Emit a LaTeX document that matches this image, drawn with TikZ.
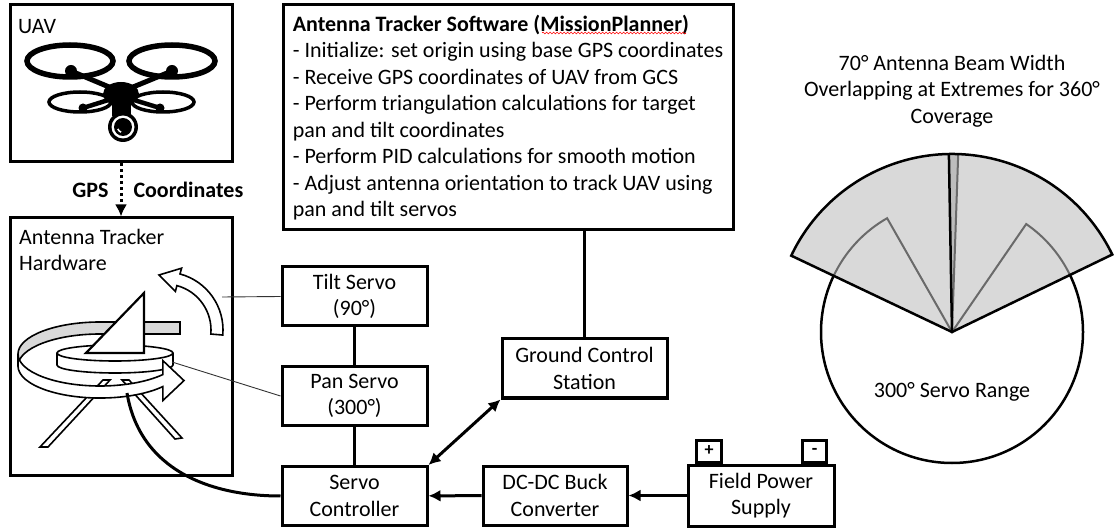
\documentclass[tikz,border=0pt]{standalone}
\usepackage{fontspec}
\setmainfont{Carlito}
\usetikzlibrary{arrows,arrows.meta,positioning,decorations.pathmorphing}

\definecolor{beam}{HTML}{D9D9D9}
\definecolor{beamdark}{HTML}{BDBDBD}
\definecolor{edgegray}{HTML}{6A6A6A}

\tikzset{
  blk/.style={draw, line width=3pt, minimum width=145pt, minimum height=59pt, align=center, inner sep=1pt},
  frame/.style={draw, line width=3pt, inner sep=0pt},
  link/.style={line width=3pt},
  thinlink/.style={line width=0.9pt, black!80},
  lbl/.style={inner sep=0pt},
  part/.style={line width=1.6pt, fill=white},
  edge/.style={line width=2pt, edgegray},
}

\begin{document}
\begin{tikzpicture}[x=1pt, y=-1pt, >={Latex[length=12pt,width=12pt]}, font=\fontsize{22}{26.5}\selectfont]
\useasboundingbox (0,0) rectangle (1117,529);

% --- UAV and tracker frames
\node[frame, minimum width=222pt, minimum height=157pt] (uav) at (121,83.5) {};
\node[frame, minimum width=222pt, minimum height=257pt] (hw) at (121,346.5) {};
\node[lbl, anchor=west] (uavlbl) at (18,27) {UAV};
\node[lbl, anchor=north west, align=left] (hwlbl) at (19,229) {Antenna Tracker\\Hardware};

\draw[link, dash pattern=on 3pt off 3pt, ->] (uav.south) -- (hw.north)
  node[lbl, midway, left=11pt, font=\fontsize{22}{26.5}\selectfont\bfseries] (gps) {GPS}
  node[lbl, midway, right=11pt, font=\fontsize{22}{26.5}\selectfont\bfseries] (coord) {Coordinates};

% drone icon
\draw[line width=5.5pt] (70,61) ellipse [x radius=43, y radius=16];
\draw[line width=5.5pt] (172,61) ellipse [x radius=43, y radius=16];
\draw[line width=3.5pt] (80,102) ellipse [x radius=31, y radius=10];
\draw[line width=3.5pt] (163,102) ellipse [x radius=31, y radius=10];
\draw[line width=5pt, line cap=round] (71,71) -- (121,92) -- (172,71);
\draw[line width=4.5pt, line cap=round] (83,108) -- (121,96) -- (160,108);
\fill (121,94) ellipse [x radius=18, y radius=12];
\fill (112,98) rectangle (131,116);
\foreach \p in {(71,71),(172,71)} \fill \p circle (6);
\foreach \p in {(83,108),(160,108)} \fill \p circle (4.5);
\fill (123,127) circle (15);
\fill[white] (123,127) circle (11.5);
\fill (123,127) circle (9);
\draw[white, line width=1.5pt] (123,127) ++(-200:5.5) arc[start angle=-200, end angle=-250, radius=5.5];

% pan ring, back half
\draw[part, fill=beam] (18,354) arc[start angle=180, end angle=270, x radius=82, y radius=32]
  -- (180,322) -- (180,334) -- (100,334)
  arc[start angle=270, end angle=180, x radius=82, y radius=32] -- cycle;
% legs
\draw[part] (103,380) -- (110,380) -- (48,447) -- (40,447) -- cycle;
\draw[part] (122,380) -- (129,380) -- (182,438) -- (175,439) -- cycle;
% turntable and dish
\draw[part] (57,353) -- (57,365) arc[start angle=180, end angle=0, x radius=58, y radius=8] -- (173,353);
\draw[part] (115,353) ellipse [x radius=58, y radius=8];
\draw[line width=2.2pt, fill=white, line join=miter] (86,353) -- (144,293) -- (144,353) -- cycle;
% pan ring, front half with head
\draw[part] (18,354) arc[start angle=180, end angle=40, x radius=82, y radius=32]
  -- ++(0,-14) -- (184,380.6) -- (162.8,400.6) -- (162.8,386.6)
  arc[start angle=40, end angle=180, x radius=82, y radius=32] -- cycle;
% tilt arrow
\draw[part] (165,330) ++(5:58) arc[start angle=5, end angle=-75, radius=58]
  -- (181.6,268.2) -- (159,275) -- (175.4,291.4) -- (176.9,285.6)
  arc[start angle=-75, end angle=5, radius=46] -- cycle;
\coordinate (tiltend) at (222,297);
\coordinate (panend) at (172,362);
\coordinate (cable) at (127,393);

% --- blocks
\node[blk] (tilt) at (354.5,296.5) {Tilt Servo\\(90°)};
\node[blk] (pan) at (354.5,396) {Pan Servo\\(300°)};
\node[blk] (ctrl) at (354.5,496) {Servo\\Controller};
\node[blk, minimum width=165pt] (gcs) at (584.5,368.5) {Ground Control\\Station};
\node[blk, minimum width=144pt] (dcdc) at (555,495.5) {DC-DC Buck\\Converter};
\node[blk, minimum width=146pt, minimum height=61pt] (field) at (761,495.5) {Field Power\\Supply};
\node[frame, minimum width=25pt, minimum height=22pt, anchor=south, font=\fontsize{18}{20}\selectfont\bfseries]
  (plus) at ([xshift=22.5pt]field.north west) {+};
\node[frame, minimum width=24pt, minimum height=22pt, anchor=south, font=\fontsize{18}{20}\selectfont\bfseries]
  (minus) at ([xshift=-21pt]field.north east) {-};

\node[draw, line width=3pt, minimum width=450pt, minimum height=225pt, align=left, inner sep=0pt] (soft) at (508,117.5)
  {\textbf{Antenna Tracker Software (MissionPlanner)}\\
   - Initialize: set origin using base GPS coordinates\\
   - Receive GPS coordinates of UAV from GCS\\
   - Perform triangulation calculations for target\\
   pan and tilt coordinates\\
   - Perform PID calculations for smooth motion\\
   - Adjust antenna orientation to track UAV using\\
   pan and tilt servos};
\draw[red, line width=0.6pt, decorate, decoration={snake, amplitude=0.9pt, segment length=3.5pt}] (542,33) -- (686,33);

% --- connections
\draw[link] (tilt) -- (pan);
\draw[link] (pan) -- (ctrl);
\draw[link] (gcs.north) -- (gcs.north |- soft.south);
\draw[link, <->] (ctrl.north east) -- (gcs.south west);
\draw[link, ->] (field) -- (dcdc);
\draw[link, ->] (dcdc) -- (ctrl);
\draw[thinlink] (tilt.west) -- (tiltend);
\draw[thinlink] (pan.west) -- (panend);
\draw[link] (ctrl.west) .. controls (210,496) and (140,470) .. (cable);

% --- coverage sketch
\coordinate (ctr) at (952,332);
\node[lbl, align=center] (beamlbl) at (952,91) {70° Antenna Beam Width\\Overlapping at Extremes for 360°\\Coverage};
\draw[line width=2.5pt] (ctr) circle (131);
\fill[beam] (ctr) -- ++(-25.8:178) arc[start angle=-25.8, end angle=-154.6, radius=178] -- cycle;
\fill[beamdark] (ctr) -- ++(-88:178) arc[start angle=-88, end angle=-91, radius=178] -- cycle;
\draw[edge] (ctr) -- ++(-88:178);
\draw[edge] (ctr) ++(-25.8:131) arc[start angle=-25.8, end angle=-55.5, radius=131]
  -- (ctr) -- ++(-119.7:131) arc[start angle=-119.7, end angle=-154.6, radius=131];
\draw[line width=2.5pt, line join=miter] (ctr) -- ++(-25.8:178) arc[start angle=-25.8, end angle=-154.6, radius=178] -- cycle;
\draw[line width=2.5pt] (ctr) -- ++(-91:178);
\node[lbl] (rangelbl) at (952,392) {300° Servo Range};
\end{tikzpicture}
\end{document}
